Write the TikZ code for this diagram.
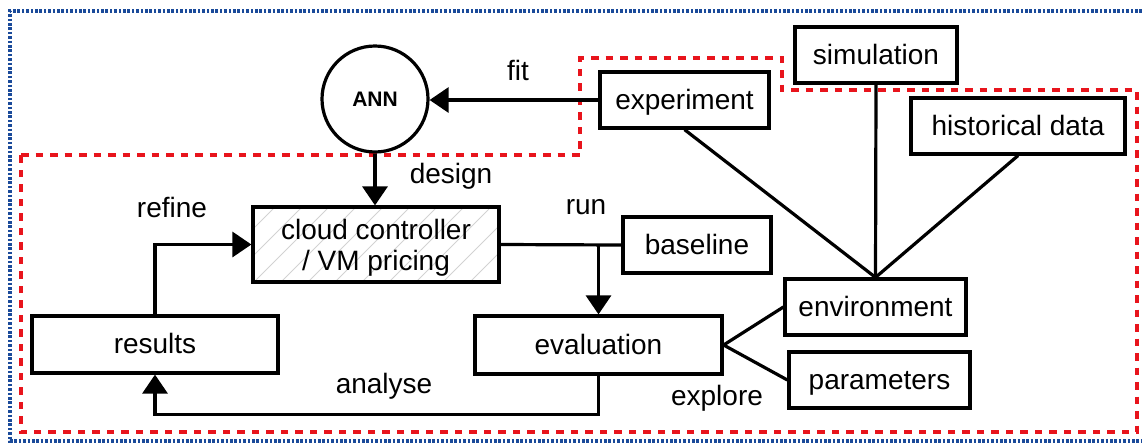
\documentclass[tikz,border=0pt]{standalone}
\usepackage{fontspec}
\setmainfont{Liberation Sans}
\usetikzlibrary{arrows.meta,backgrounds}
\definecolor{frameblue}{HTML}{1A4A9A}
\definecolor{zonered}{HTML}{E8141C}
\begin{document}
\begin{tikzpicture}[x=1pt,y=-1pt,
  every node/.style={font=\fontsize{28}{31}\selectfont},
  box/.style={draw, line width=3.2pt, inner sep=0pt, text height=20pt, text depth=2pt},
  conn/.style={line width=3.2pt},
  arr/.style={conn, -{Triangle[length=19pt,width=25pt]}},
  lbl/.style={anchor=base, inner sep=0pt},
  hatch/.style={draw=gray!35, line width=0.8pt}]
\useasboundingbox (0,0) rectangle (1142,442);

% outer dotted frame (open on the right)
\draw[frameblue, line width=3.2pt, dash pattern=on 2.6pt off 1.8pt]
  (1142,11) -- (10,11) -- (10,441) -- (1142,441);

% dashed zone
\draw[zonered, line width=3.2pt, dash pattern=on 7.5pt off 7pt]
  (21,155) -- (580,155) -- (580,58) -- (782,58) -- (782,90)
  -- (1137,90) -- (1137,432) -- (21,432) -- cycle;

% nodes
\node[circle, draw, line width=3.2pt, minimum size=106pt, inner sep=0pt,
      font=\fontsize{21}{24}\selectfont\bfseries] (ann) at (375,99) {ANN};
\node[box, minimum width=169pt, minimum height=56pt] (exp) at (684.5,100) {experiment};
\node[box, minimum width=162pt, minimum height=56pt] (sim) at (876,55) {simulation};
\node[box, minimum width=214pt, minimum height=56pt] (hist) at (1018,126) {historical data};
\node[draw, line width=3.2pt, inner sep=0pt,
      minimum width=246pt, minimum height=75pt] (cloud) at (376,244.5) {};
\node[lbl] (cloud1) at (376,239) {cloud controller};
\node[lbl] (cloud2) at (376,270) {/ VM pricing};
\node[box, minimum width=148pt, minimum height=56pt] (base) at (697,245) {baseline};
\node[box, minimum width=246pt, minimum height=57pt] (res) at (155,344.5) {results};
\node[box, minimum width=247pt, minimum height=58pt] (eval) at (598.5,345) {evaluation};
\node[box, minimum width=181pt, minimum height=56pt] (env) at (875.5,307) {environment};
\node[box, minimum width=181pt, minimum height=56pt] (par) at (879.5,380) {parameters};

% hatching inside the controller box
\begin{scope}[on background layer]
  \clip (cloud.south west) rectangle (cloud.north east);
  \foreach \i in {-80,-53,...,260}
    \draw[hatch] (253+\i,282) -- ++(75,-75);
\end{scope}

% connectors
\draw[arr] (exp.west) -- (ann.east |- exp.west);
\draw[arr] (ann.south) -- (ann.south |- cloud.north);
\draw[arr] (res.north) |- (cloud.west);
\draw[conn] (cloud.east) -- (base.west);
\coordinate (runj) at (cloud.east -| eval.north);
\draw[arr] (runj) -- (eval.north);
\draw[arr] (eval.south) -- ++(0,39) -| (res.south);
\draw[conn] (eval.east) -- (env.west);
\draw[conn] (eval.east) -- (par.west);
\draw[conn] (exp.south) -- (env.north);
\draw[conn] (sim.south) -- (env.north);
\draw[conn] (hist.south) -- (env.north);

% labels
\node[lbl] (lfit) at (518,80) {fit};
\node[lbl] (ldesign) at (451,183) {design};
\node[lbl] (lrefine) at (172,217) {refine};
\node[lbl] (lrun) at (586,214) {run};
\node[lbl] (lanalyse) at (384,393) {analyse};
\node[lbl] (lexplore) at (717,405) {explore};
\end{tikzpicture}
\end{document}
